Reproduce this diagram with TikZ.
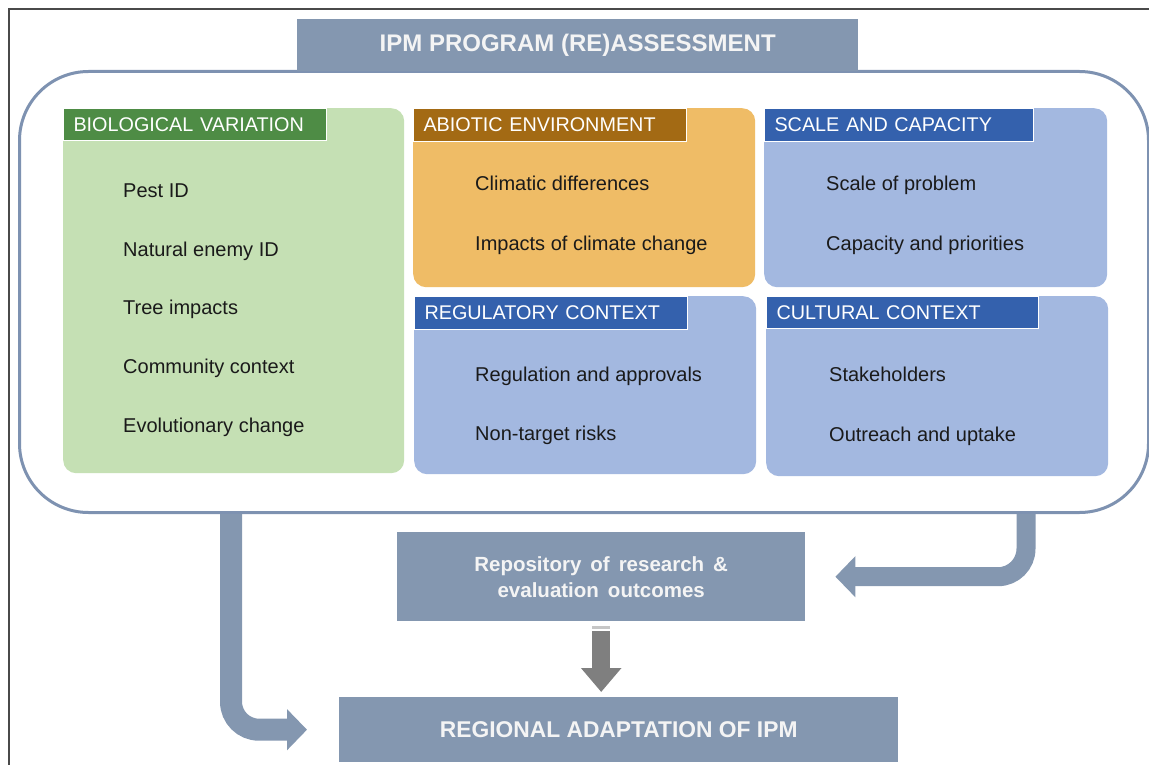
\documentclass[tikz,border=0pt]{standalone}
\usepackage{fontspec}
\setmainfont{Liberation Sans}
\usetikzlibrary{arrows.meta}
\definecolor{slate}{HTML}{8497B0}
\definecolor{contline}{HTML}{7E92B1}
\definecolor{frameline}{HTML}{4A4A4A}
\definecolor{greenL}{HTML}{C5E0B4}
\definecolor{greenD}{HTML}{4E8C45}
\definecolor{orangeL}{HTML}{EFBC66}
\definecolor{brownD}{HTML}{A36A14}
\definecolor{blueL}{HTML}{A3B8E0}
\definecolor{blueD}{HTML}{3461AD}
\definecolor{txt}{HTML}{1A1A1A}
\definecolor{grayarrow}{HTML}{7F7F7F}
\definecolor{titletxt}{HTML}{F4F4F4}
\newcommand\widespaces{\spaceskip=9pt plus 2pt\relax}
\begin{document}
\begin{tikzpicture}[x=1pt,y=-1pt,
  panel/.style={anchor=north west, rounded corners=13pt, inner sep=0pt},
  hdr/.style={anchor=north west, draw=white, line width=1pt, inner xsep=10pt, inner ysep=0pt,
    minimum height=33pt, align=left, text=white, font=\fontsize{19.8}{22}\selectfont},
  item/.style={anchor=base west, inner sep=0pt, text=txt, font=\fontsize{20}{24}\selectfont},
  bar/.style={anchor=north west, fill=slate, inner sep=0pt, text=titletxt},
  fatarrow/.style={draw=slate, line width=#1, rounded corners=28pt, -{Triangle[length=20pt,width=40pt]}},
]
\useasboundingbox (0,0) rectangle (1149,765);
% outer frame
\draw[frameline, line width=2pt] (9,765) -- (9,9) -- (1149,9);
% container
\node[draw=contline, line width=3pt, rounded corners=69pt, fill=white, minimum width=1129pt,
  minimum height=441pt, anchor=north west, inner sep=0pt] (frame) at (18,70) {};
% title
\node[bar, minimum width=561pt, minimum height=52pt, font=\bfseries\fontsize{24}{28}\selectfont]
  (title) at (297,19) {IPM PROGRAM (RE)ASSESSMENT};
% panels
\node[panel, fill=greenL, minimum width=341pt, minimum height=365pt] (bio) at (63,108) {};
\node[hdr, fill=greenD, text width=243pt, minimum height=32pt] (bioH) at (63,108) {BIOLOGICAL VARIATION};
\node[panel, fill=orangeL, minimum width=342pt, minimum height=179pt] (abio) at (413,108) {};
\node[hdr, fill=brownD, text width=253pt] (abioH) at (413,108) {ABIOTIC ENVIRONMENT};
\node[panel, fill=blueL, minimum width=343pt, minimum height=179pt] (scale) at (764,108) {};
\node[hdr, fill=blueD, text width=249pt] (scaleH) at (764,108) {SCALE AND CAPACITY};
\node[panel, fill=blueL, minimum width=342pt, minimum height=178pt] (reg) at (414,296) {};
\node[hdr, fill=blueD, text width=253pt] (regH) at (414,296) {REGULATORY CONTEXT};
\node[panel, fill=blueL, minimum width=342pt, minimum height=180pt] (cult) at (766,296) {};
\node[hdr, fill=blueD, text width=252pt, minimum height=32pt] (cultH) at (766,296) {CULTURAL CONTEXT};
% items
\node[item] (b1) at (123,197) {Pest ID};
\node[item] (b2) at (123,256) {Natural enemy ID};
\node[item] (b3) at (123,314) {Tree impacts};
\node[item] (b4) at (123,373) {Community context};
\node[item] (b5) at (123,432) {Evolutionary change};
\node[item] (a1) at (475,190) {Climatic differences};
\node[item] (a2) at (475,250) {Impacts of climate change};
\node[item] (s1) at (826,190) {Scale of problem};
\node[item] (s2) at (826,250) {Capacity and priorities};
\node[item] (r1) at (475,381) {Regulation and approvals};
\node[item] (r2) at (475,440) {Non-target risks};
\node[item] (c1) at (829,381) {Stakeholders};
\node[item] (c2) at (829,441) {Outreach and uptake};
% bottom boxes
\node[bar, minimum width=408pt, minimum height=89pt, align=center,
  font=\bfseries\fontsize{20.5}{26}\selectfont\widespaces]
  (repo) at (397,532) {Repository of research \&\\evaluation outcomes};
\node[bar, minimum width=559pt, minimum height=65pt, font=\bfseries\fontsize{22.8}{26}\selectfont]
  (regional) at (339,697) {REGIONAL ADAPTATION OF IPM\hspace{16pt}};
% arrows
\coordinate (ls) at (231,514);
\coordinate (rs) at (1026,514);
\draw[fatarrow=22pt] (ls) |- ([xshift=-32pt]regional.west);
\draw[fatarrow=19pt] (rs) |- ([xshift=30pt]repo.east);
\draw[draw=gray!45, line width=3pt] ([xshift=-9pt,yshift=-6pt]repo.south) -- ++(18,0);
\draw[draw=grayarrow, line width=18pt, -{Triangle[length=24pt,width=39pt]}]
  ([yshift=-10pt]repo.south) -- ([yshift=5pt]regional.north -| repo.south);
\end{tikzpicture}
\end{document}
